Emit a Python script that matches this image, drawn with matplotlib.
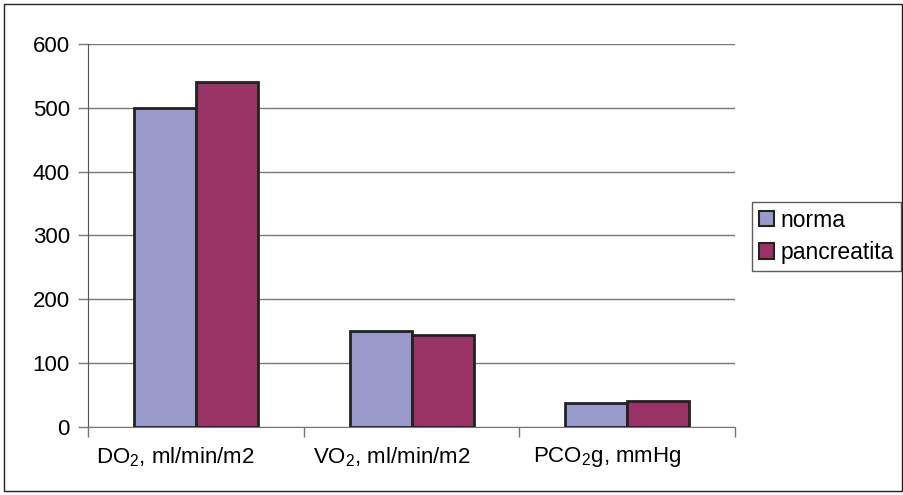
import numpy as np
import matplotlib as mpl
mpl.use('Agg')
import matplotlib.pyplot as plt
from matplotlib.patches import Rectangle
from matplotlib.transforms import ScaledTranslation

mpl.rcParams['font.family'] = ['Liberation Sans', 'DejaVu Sans']
mpl.rcParams['mathtext.fontset'] = 'custom'
mpl.rcParams['mathtext.rm'] = 'Liberation Sans'
mpl.rcParams['mathtext.it'] = 'Liberation Sans'

categories = ['DO$_2$, ml/min/m2', 'VO$_2$, ml/min/m2', 'PCO$_2$g, mmHg']
norma = [500, 150, 37]
pancreatita = [540, 144, 40]
yticks = [0, 100, 200, 300, 400, 500, 600]

fig = plt.figure(figsize=(9.04, 4.95), dpi=100)
ax = fig.add_axes([0.0973, 0.1374, 0.716, 0.774])

x = np.arange(len(categories))
w = 0.287
ax.bar(x - w / 2, norma, w, color='#9999CC', edgecolor='#222222', linewidth=2,
       label='norma', zorder=3)
ax.bar(x + w / 2, pancreatita, w, color='#993366', edgecolor='#222222', linewidth=2,
       label='pancreatita', zorder=3)

ax.set_xlim(-0.5, 2.5)
ax.set_ylim(0, 600)
ax.set_yticks(yticks)
ax.set_xticks(x)
ax.set_xticklabels(categories, fontsize=16)
ax.tick_params(axis='x', length=0, pad=13)
# Excel draws the labels a bit left of the category centre
for lab in ax.get_xticklabels():
    lab.set_transform(lab.get_transform() + ScaledTranslation(-0.2, 0, fig.dpi_scale_trans))
ax.set_xticks([-0.5, 0.5, 1.5, 2.5], minor=True)
ax.tick_params(axis='x', which='minor', length=7, color='#777777', width=1)
ax.tick_params(axis='y', length=7, color='#777777', width=1, labelsize=16, pad=6)
ax.yaxis.grid(True, color='#777777', linewidth=1)
ax.set_axisbelow(True)
for s in ['top', 'right']:
    ax.spines[s].set_visible(False)
ax.spines['left'].set_color('#555555')
ax.spines['bottom'].set_color('#777777')

leg = ax.legend(loc='upper left', bbox_to_anchor=(752 / 904, 293 / 495),
                bbox_transform=fig.transFigure, fontsize=16.5, frameon=True,
                fancybox=False, edgecolor='#333333', borderpad=0.3,
                handlelength=0.65, handleheight=0.65, handletextpad=0.3,
                labelspacing=0.4, borderaxespad=0)
leg.get_frame().set_linewidth(1)
for h in leg.legend_handles:
    h.set_linewidth(1.5)

fig.patches.append(Rectangle((4 / 904, 4 / 495), 898 / 904, 487 / 495,
                             transform=fig.transFigure, fill=False,
                             edgecolor='#222222', linewidth=1))

fig.savefig('out.png', dpi=100)
